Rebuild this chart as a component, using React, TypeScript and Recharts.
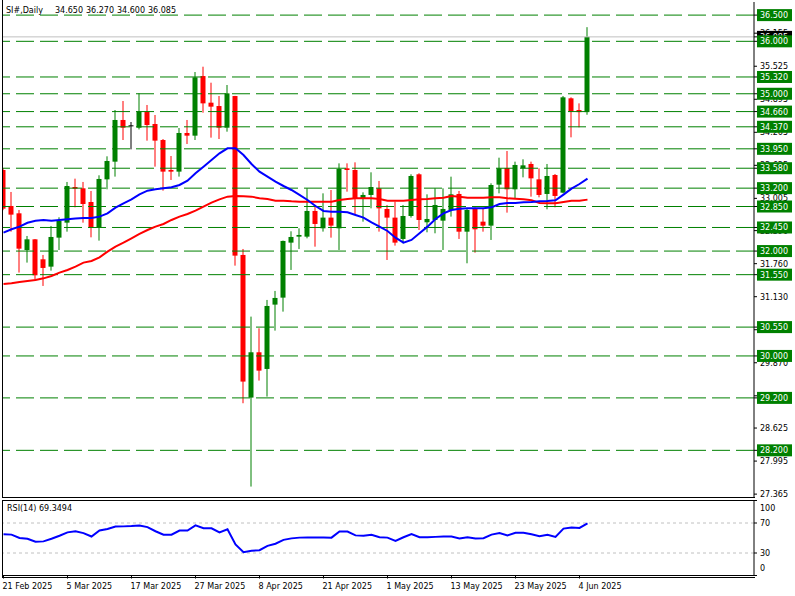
import React from "react";
import {
  ComposedChart,
  LineChart,
  Bar,
  Line,
  XAxis,
  YAxis,
  ReferenceLine,
} from "recharts";

// SI# daily candles, 21 Feb 2025 .. 5 Jun 2025 (74 bars)
const opens = [
  33.546, 32.86, 32.72, 32.02, 32.224, 31.843, 31.703, 32.256, 32.542, 33.222,
  33.197, 32.936, 32.447, 33.368, 33.705, 34.5, 34.398, 34.353, 34.658, 34.423,
  34.118, 33.546, 33.515, 34.252, 34.201, 35.338, 34.83, 34.766, 34.353, 34.957,
  31.926, 29.206, 30.07, 29.752, 30.979, 31.112, 32.161, 32.275, 32.275, 32.765,
  32.434, 32.638, 32.434, 33.578, 33.546, 33.006, 33.07, 33.197, 32.803, 32.638,
  32.231, 32.669, 33.464, 32.549, 32.593, 32.58, 32.784, 33.089, 32.37, 32.815,
  32.561, 32.485, 33.267, 33.584, 33.178, 33.578, 33.661, 33.368, 33.089, 33.451,
  33.114, 34.913, 34.69, 34.65,
];
const highs = [
  33.58, 33.127, 32.784, 32.288, 32.23, 31.926, 32.479, 32.644, 33.318, 33.381,
  33.318, 33.146, 33.445, 33.807, 34.69, 34.862, 34.461, 35.008, 34.786, 34.595,
  34.137, 33.813, 34.347, 34.5, 35.415, 35.516, 35.211, 34.957, 35.167, 34.96,
  32.04, 30.75, 30.527, 31.068, 31.24, 32.2, 32.377, 32.434, 33.197, 32.879,
  33.101, 33.165, 33.673, 33.673, 33.692, 33.12, 33.502, 33.337, 32.879, 32.943,
  32.879, 33.464, 33.483, 33.082, 33.197, 33.197, 33.419, 33.146, 32.815, 32.834,
  32.815, 33.292, 33.781, 33.908, 33.705, 33.75, 33.705, 33.578, 33.661, 33.47,
  34.957, 34.932, 34.817, 36.27,
];
const lows = [
  32.78, 32.37, 31.59, 31.78, 31.436, 31.335, 31.627, 32.02, 32.37, 32.834,
  32.542, 32.262, 32.199, 33.178, 33.42, 34.118, 33.94, 34.32, 34.106, 33.61,
  33.152, 33.356, 33.42, 34.042, 34.118, 34.639, 34.163, 34.137, 34.277, 31.722,
  29.098, 27.509, 29.53, 29.225, 30.483, 30.845, 31.64, 32.04, 32.243, 32.084,
  32.371, 32.256, 32.021, 33.133, 32.688, 32.561, 32.815, 32.371, 31.83, 32.104,
  32.148, 32.638, 32.402, 32.358, 32.339, 32.021, 32.657, 32.231, 31.767, 31.97,
  32.37, 32.212, 33.101, 32.733, 33.006, 33.406, 33.038, 33.025, 32.797, 32.834,
  33.101, 34.169, 34.36, 34.6,
];
const closes = [
  32.809, 32.695, 32.046, 32.224, 31.538, 31.678, 32.269, 32.574, 33.241, 33.19,
  32.898, 32.447, 33.375, 33.718, 34.5, 34.353, 34.398, 34.658, 34.404, 34.106,
  33.515, 33.515, 34.252, 34.201, 35.313, 34.817, 34.754, 34.353, 35.008, 31.913,
  29.511, 30.07, 29.72, 30.953, 31.106, 32.193, 32.269, 32.307, 32.765, 32.517,
  32.638, 32.485, 33.565, 33.546, 33.006, 33.07, 33.222, 32.815, 32.638, 32.161,
  32.669, 33.432, 32.593, 32.612, 32.879, 32.803, 33.082, 32.37, 32.784, 32.415,
  32.485, 33.26, 33.578, 33.178, 33.642, 33.635, 33.387, 33.07, 33.432, 33.051,
  34.932, 34.658, 34.65, 36.085,
];
// moving averages as drawn (blue fast, red slow)
const maFast = [
  32.352, 32.415, 32.466, 32.54, 32.58, 32.593, 32.58, 32.593, 32.606, 32.619,
  32.631, 32.631, 32.657, 32.72, 32.828, 32.91, 32.987, 33.082, 33.152, 33.178,
  33.197, 33.216, 33.26, 33.343, 33.483, 33.61, 33.737, 33.864, 33.959, 33.959,
  33.832, 33.66, 33.515, 33.42, 33.324, 33.241, 33.165, 33.07, 32.974, 32.86,
  32.765, 32.752, 32.752, 32.74, 32.688, 32.638, 32.549, 32.466, 32.383, 32.256,
  32.161, 32.212, 32.339, 32.466, 32.612, 32.72, 32.784, 32.809, 32.815, 32.815,
  32.815, 32.834, 32.898, 32.917, 32.917, 32.93, 32.936, 32.949, 32.955, 32.968,
  33.076, 33.19, 33.279, 33.381,
];
const maSlow = [
  31.373, 31.386, 31.411, 31.43, 31.449, 31.48, 31.525, 31.589, 31.64, 31.703,
  31.78, 31.811, 31.881, 31.989, 32.085, 32.161, 32.244, 32.326, 32.402, 32.466,
  32.517, 32.593, 32.657, 32.707, 32.771, 32.847, 32.923, 32.987, 33.038, 33.051,
  33.044, 33.038, 33.006, 32.993, 32.961, 32.961, 32.949, 32.942, 32.942, 32.942,
  32.942, 32.942, 32.974, 32.993, 33.006, 33.006, 33.006, 32.993, 32.961, 32.961,
  32.961, 32.974, 32.987, 32.993, 33.006, 33.019, 33.051, 33.038, 33.019, 33.019,
  33.019, 33.025, 33.025, 33.006, 33.0, 32.987, 32.968, 32.917, 32.911, 32.911,
  32.936, 32.961, 32.961, 32.981,
];
const rsi = [
  55, 54.5, 50, 49, 45, 45.5, 49, 53, 57.5, 59,
  56.5, 52, 60, 62, 65.4, 65.5, 66, 66.8, 64.5, 59,
  54.4, 54.4, 60, 60, 66.8, 63, 63, 57.5, 61.7, 41.5,
  31, 33, 33.7, 39.5, 42.4, 47.5, 49.5, 50.5, 50.7, 50.7,
  50.7, 50.5, 58.6, 58.6, 53.5, 53, 54.4, 51, 50.5, 46,
  51, 55.3, 51, 51, 51.5, 52, 52, 49.5, 51, 49.5,
  49.8, 54.5, 56.5, 53.5, 57, 57, 55, 52.5, 54.4, 51.5,
  62.5, 64, 63.5, 69.35,
];

const levels = [
  36.5, 36.0, 35.32, 35.0, 34.66, 34.37, 33.95, 33.58, 33.2, 32.85, 32.45,
  32.0, 31.55, 30.55, 30.0, 29.2, 28.2,
];
const priceTicks = [
  36.155, 35.525, 34.895, 34.265, 33.635, 33.005, 32.39, 31.76, 31.13, 30.5,
  29.87, 29.24, 28.625, 27.995, 27.365,
];
const lastPrice = 36.085;
const dateTicks = [0, 8, 16, 24, 32, 40, 48, 56, 64, 72];
const dateLabels = [
  "21 Feb 2025", "5 Mar 2025", "17 Mar 2025", "27 Mar 2025", "8 Apr 2025",
  "21 Apr 2025", "1 May 2025", "13 May 2025", "23 May 2025", "4 Jun 2025",
];
const rsiTicks = [0, 30, 70, 100];

const GREEN = "#008000";
const RED = "#ff0000";
const FONT = "'DejaVu Sans', Tahoma, sans-serif";
const X_DOMAIN = [-0.0625, 93.8125];

const data = opens.map((o, i) => ({
  i,
  o,
  h: highs[i],
  l: lows[i],
  c: closes[i],
  range: [lows[i], highs[i]],
  maFast: maFast[i],
  maSlow: maSlow[i],
  rsi: rsi[i],
}));

const Candle = (props: any) => {
  const { x, y, width, height, payload } = props;
  const { o, h, l, c } = payload;
  const top = Math.min(y, y + height);
  const span = Math.abs(height);
  const py = (v: number) => (h === l ? top : top + ((h - v) / (h - l)) * span);
  const color = c > o ? GREEN : c < o ? RED : "#000";
  const cx = x + width / 2;
  const bTop = py(Math.max(o, c));
  const bBot = py(Math.min(o, c));
  return (
    <g>
      <line x1={cx} x2={cx} y1={py(h)} y2={py(l)} stroke={color} strokeWidth={1} />
      <rect x={cx - 2.5} y={bTop} width={5} height={Math.max(1, bBot - bTop)} fill={color} />
    </g>
  );
};

const PriceTick = (props: any) => {
  const { x, y, payload } = props;
  const v = payload.value;
  if (levels.includes(v)) {
    return (
      <g>
        <rect x={x - 2} y={y - 6} width={35} height={12} fill={GREEN} />
        <text x={x + 1} y={y + 3} fill="#fff" fontSize={8} fontFamily={FONT}>
          {v.toFixed(3)}
        </text>
      </g>
    );
  }
  if (v === lastPrice) {
    return (
      <g>
        <rect x={x - 2} y={y - 6} width={35} height={12} fill="#000" />
        <text x={x + 1} y={y + 3} fill="#fff" fontSize={8} fontFamily={FONT}>
          {v.toFixed(3)}
        </text>
      </g>
    );
  }
  return (
    <text x={x + 1} y={y + 3} fill="#000" fontSize={8} fontFamily={FONT}>
      {v.toFixed(3)}
    </text>
  );
};

// RSI labels kept inside the panel, as the terminal does
const RsiTick = (props: any) => {
  const { x, y, payload } = props;
  const ty = Math.min(Math.max(y, 8), 68);
  return (
    <text x={x + 1} y={ty + 3} fill="#000" fontSize={8} fontFamily={FONT}>
      {payload.value}
    </text>
  );
};

const DateTick = (props: any) => {
  const { x, y, payload } = props;
  const k = dateTicks.indexOf(payload.value);
  return (
    <text x={x - 1} y={y + 8} fill="#000" fontSize={8} fontFamily={FONT}>
      {dateLabels[k]}
    </text>
  );
};

const textStyle: React.CSSProperties = {
  position: "absolute",
  fontFamily: FONT,
  fontSize: 8,
  color: "#000",
  whiteSpace: "pre",
  lineHeight: "10px",
};

export default function App() {
  return (
    <div style={{ position: "absolute", left: 0, top: 0, width: 795, height: 596, background: "#fff" }}>
      <div style={{ position: "absolute", left: 0, top: 0 }}>
        <ComposedChart width={795} height={500} data={data} margin={{ top: 2, right: 0, left: 3, bottom: 3 }}>
          <XAxis dataKey="i" type="number" domain={X_DOMAIN} allowDataOverflow hide />
          <YAxis
            orientation="right"
            width={41}
            type="number"
            domain={[27.31, 36.75]}
            allowDataOverflow
            ticks={[...priceTicks, lastPrice, ...levels]}
            interval={0}
            tick={<PriceTick />}
            tickSize={3}
            tickMargin={2}
            axisLine={{ stroke: "#000" }}
            tickLine={{ stroke: "#000" }}
          />
          {levels.map((lv) => (
            <ReferenceLine key={lv} y={lv} stroke={GREEN} strokeDasharray="18 6" />
          ))}
          <ReferenceLine y={lastPrice} stroke="#c0c0c0" />
          <Line dataKey="maSlow" stroke={RED} strokeWidth={2} dot={false} isAnimationActive={false} />
          <Line dataKey="maFast" stroke="#0000ff" strokeWidth={2} dot={false} isAnimationActive={false} />
          <Bar dataKey="range" barSize={5} shape={<Candle />} isAnimationActive={false} />
        </ComposedChart>
      </div>
      <div style={{ position: "absolute", left: 0, top: 500 }}>
        <LineChart width={795} height={96} data={data} margin={{ top: 0.5, right: 0, left: 3, bottom: 0.5 }}>
          <XAxis
            dataKey="i"
            type="number"
            domain={X_DOMAIN}
            allowDataOverflow
            ticks={dateTicks}
            interval={0}
            tick={<DateTick />}
            height={20}
            tickSize={3}
            axisLine={{ stroke: "#000" }}
            tickLine={{ stroke: "#000" }}
          />
          <YAxis
            orientation="right"
            width={41}
            type="number"
            domain={[0, 100]}
            ticks={rsiTicks}
            interval={0}
            tick={<RsiTick />}
            tickSize={3}
            tickMargin={2}
            axisLine={{ stroke: "#000" }}
            tickLine={{ stroke: "#000" }}
          />
          <ReferenceLine y={70} stroke="#c0c0c0" strokeDasharray="3 3" />
          <ReferenceLine y={30} stroke="#c0c0c0" strokeDasharray="3 3" />
          <Line dataKey="rsi" stroke="#0000ff" strokeWidth={2} dot={false} isAnimationActive={false} />
        </LineChart>
      </div>
      {/* panel frames */}
      <div style={{ position: "absolute", left: 2, top: 0, width: 752, height: 497, borderLeft: "1px solid #000", borderBottom: "1px solid #000" }} />
      <div style={{ position: "absolute", left: 2, top: 500, width: 752, height: 76, border: "1px solid #000", borderRight: "none" }} />
      {/* header */}
      <div style={{ ...textStyle, left: 6, top: 6 }}>SI#,Daily</div>
      <div style={{ ...textStyle, left: 55, top: 6 }}>34.650</div>
      <div style={{ ...textStyle, left: 86, top: 6 }}>36.270</div>
      <div style={{ ...textStyle, left: 117, top: 6 }}>34.600</div>
      <div style={{ ...textStyle, left: 148, top: 6 }}>36.085</div>
      <div style={{ ...textStyle, left: 7, top: 504 }}>RSI(14) 69.3494</div>
    </div>
  );
}
